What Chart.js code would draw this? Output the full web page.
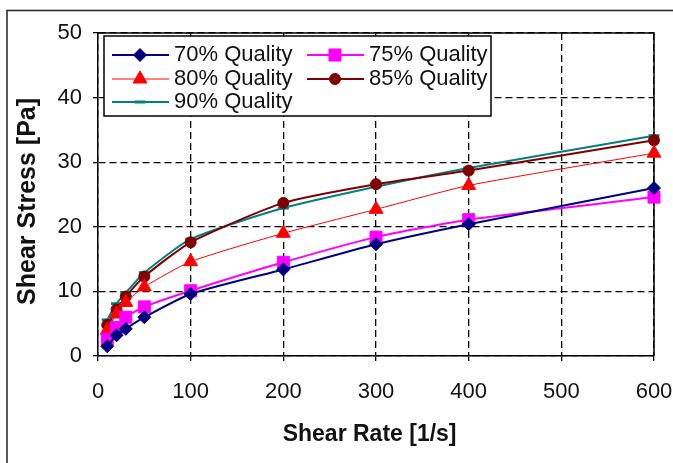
<!DOCTYPE html>
<html>
<head>
<meta charset="utf-8">
<script src="https://cdn.jsdelivr.net/npm/chart.js@4.4.1/dist/chart.umd.min.js"></script>
<style>
    html, body { margin: 0; padding: 0; background: #fff; }
    #wrap { width: 673px; height: 463px; }
</style>
</head>
<body>
<div id="wrap"><canvas id="shearChart" width="673" height="463"></canvas></div>
<script>
// Data
const shearRate = [10, 20, 30, 50, 100, 200, 300, 400, 600];
const quality70 = [1.5, 3.2, 4.2, 6.0, 9.6, 13.4, 17.3, 20.4, 26.0];
const quality75 = [2.6, 4.4, 6.0, 7.6, 10.1, 14.5, 18.4, 21.1, 24.6];
const quality80 = [4.0, 6.5, 8.3, 10.7, 14.6, 19.0, 22.7, 26.4, 31.4];
const quality85 = [4.8, 7.2, 9.2, 12.3, 17.6, 23.7, 26.6, 28.7, 33.4];
const quality90 = [5.6, 8.1, 9.8, 12.9, 18.1, 22.9, 26.2, 29.1, 34.1];
const seriesLabels = ['70% Quality', '75% Quality', '80% Quality', '85% Quality', '90% Quality'];
const xTickValues = [0, 100, 200, 300, 400, 500, 600];
const yTickValues = [0, 10, 20, 30, 40, 50];

const baseFont = "'Liberation Sans', Arial, sans-serif";

function toPoints(values) {
    return shearRate.map((x, i) => ({ x: x, y: values[i] }));
}

function makeSeries(label, values, color, style, radius, lineWidth, markerBorder) {
    return {
        label: label,
        data: toPoints(values),
        borderColor: color,
        backgroundColor: color,
        borderWidth: lineWidth,
        pointStyle: style,
        pointRadius: radius,
        pointHoverRadius: radius,
        pointBorderWidth: markerBorder,
        pointBackgroundColor: color,
        pointBorderColor: color,
        tension: 0.2,
        clip: false
    };
}

// Frame round the page and solid top/right edges of the plot
const frame = {
    id: 'frame',
    beforeDraw(chart) {
        const ctx = chart.ctx;
        ctx.save();
        ctx.fillStyle = '#fff';
        ctx.fillRect(0, 0, chart.width, chart.height);
        ctx.strokeStyle = '#222';
        ctx.lineWidth = 1.5;
        ctx.strokeRect(7, 10.5, 720, 520);
        ctx.restore();
    },
    beforeDatasetsDraw(chart) {
        const { ctx, chartArea } = chart;
        ctx.save();
        ctx.strokeStyle = '#000';
        ctx.lineWidth = 1.5;
        ctx.beginPath();
        ctx.moveTo(chartArea.left, chartArea.top);
        ctx.lineTo(chartArea.right, chartArea.top);
        ctx.lineTo(chartArea.right, chartArea.bottom);
        ctx.stroke();
        ctx.restore();
    }
};

// Legend box drawn inside the plot, two columns like the original
const insideLegend = {
    id: 'insideLegend',
    afterDraw(chart) {
        const { ctx, chartArea } = chart;
        const x0 = chartArea.left + 6;
        const y0 = chartArea.top + 3;
        const w = 387, h = 80;
        const cols = [8, 203];
        const rows = [19, 43, 66];
        ctx.save();
        ctx.fillStyle = '#fff';
        ctx.fillRect(x0, y0, w, h);
        ctx.strokeStyle = '#000';
        ctx.lineWidth = 1.5;
        ctx.strokeRect(x0, y0, w, h);
        chart.data.datasets.forEach((ds, i) => {
            const lx = x0 + cols[i % 2];
            const ly = y0 + rows[Math.floor(i / 2)];
            ctx.strokeStyle = ds.borderColor;
            ctx.lineWidth = ds.borderWidth;
            ctx.beginPath();
            ctx.moveTo(lx, ly);
            ctx.lineTo(lx + 57, ly);
            ctx.stroke();
            ctx.fillStyle = ds.pointBackgroundColor;
            ctx.strokeStyle = ds.pointBorderColor;
            ctx.lineWidth = ds.pointBorderWidth;
            Chart.helpers.drawPoint(ctx, {
                pointStyle: ds.pointStyle,
                radius: ds.pointRadius,
                borderWidth: ds.pointBorderWidth,
                rotation: 0
            }, lx + 28, ly);
            ctx.fillStyle = '#111';
            ctx.font = "22px " + baseFont;
            ctx.textBaseline = 'middle';
            ctx.fillText(ds.label, lx + 62, ly);
        });
        ctx.restore();
    }
};

const gridStyle = {
    color: '#000',
    lineWidth: 1.3,
    tickLength: 5,
    tickColor: '#000',
    tickWidth: 1.3
};
const borderStyle = { display: true, color: '#000', width: 1.5, dash: [7, 4] };

const ctx = document.getElementById('shearChart');
new Chart(ctx, {
    type: 'line',
    data: {
        datasets: [
            makeSeries(seriesLabels[0], quality70, '#000080', 'rectRot', 6.5, 2, 1),
            makeSeries(seriesLabels[1], quality75, '#ff00ff', 'rect', 8.5, 2, 1),
            makeSeries(seriesLabels[2], quality80, '#ff0000', 'triangle', 8, 1, 1),
            makeSeries(seriesLabels[3], quality85, '#800000', 'circle', 5.5, 2, 1),
            makeSeries(seriesLabels[4], quality90, '#008080', 'line', 5.5, 2, 3)
        ]
    },
    options: {
        responsive: false,
        animation: false,
        devicePixelRatio: 1,
        layout: {
            padding: { left: 0, top: 33, right: 19, bottom: 0 }
        },
        plugins: {
            legend: { display: false },
            tooltip: { enabled: false }
        },
        scales: {
            x: {
                type: 'linear',
                min: 0,
                max: 600,
                afterBuildTicks: (scale) => {
                    scale.ticks = xTickValues.map(v => ({ value: v }));
                },
                afterFit: (scale) => {
                    scale.height = 107;
                    scale.paddingRight = 0;
                    scale.paddingLeft = 0;
                },
                ticks: {
                    color: '#111',
                    padding: 18,
                    maxRotation: 0,
                    font: { family: baseFont, size: 22 }
                },
                grid: gridStyle,
                border: borderStyle,
                title: {
                    display: true,
                    text: 'Shear Rate [1/s]  ',
                    color: '#111',
                    padding: { top: 0, bottom: 15 },
                    font: { family: baseFont, size: 23, weight: 'bold' }
                }
            },
            y: {
                min: 0,
                max: 50,
                afterBuildTicks: (scale) => {
                    scale.ticks = yTickValues.map(v => ({ value: v }));
                },
                afterFit: (scale) => {
                    scale.width = 98;
                },
                ticks: {
                    color: '#111',
                    padding: 11,
                    font: { family: baseFont, size: 22 }
                },
                grid: gridStyle,
                border: borderStyle,
                title: {
                    display: true,
                    text: 'Shear Stress [Pa]  ',
                    color: '#111',
                    padding: { top: 13, bottom: 0 },
                    font: { family: baseFont, size: 25, weight: 'bold' }
                }
            }
        }
    },
    plugins: [frame, insideLegend]
});
</script>
</body>
</html>
